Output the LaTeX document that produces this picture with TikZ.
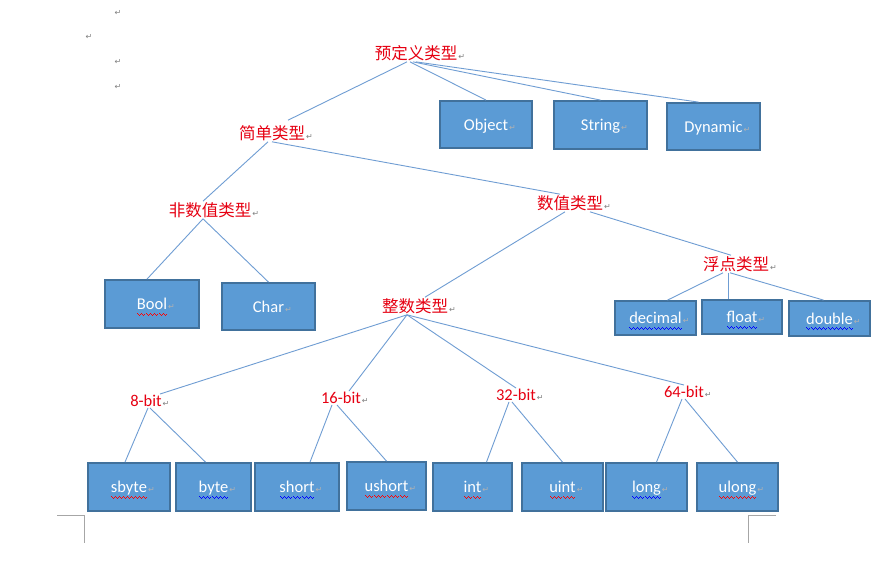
\documentclass[tikz,border=0pt]{standalone}
\usepackage{fontspec}
\setmainfont{Carlito}
\newfontfamily\cjk{Noto Sans CJK SC}
\newfontfamily\symf{DejaVu Sans}
\usepackage{xcolor}
\definecolor{bxFill}{HTML}{5B9BD5}
\definecolor{bxLine}{HTML}{41719C}
\definecolor{lnkC}{HTML}{6F9DD3}
\definecolor{lblR}{HTML}{E60012}
\newcommand\fs{\fontsize{16.5}{18}\selectfont}
\newcommand\pmk[1][gray]{\rlap{\hspace{1pt}\symf\fontsize{8}{8}\selectfont\textcolor{#1}{↵}}}
\newlength\sqw
\newcommand\sqg[2]{\settowidth\sqw{#2}\rlap{\smash{\color{#1}\xleaders\hbox{\rule[-4pt]{1pt}{1pt}\rule[-5pt]{1pt}{1pt}\rule[-6pt]{1pt}{1pt}\rule[-5pt]{1pt}{1pt}}\hskip\sqw}}#2}

\begin{document}
\begin{tikzpicture}[x=1pt,y=-1pt,
  tbox/.style={draw=bxLine,fill=bxFill,line width=1.8pt,text=white,font=\fs,inner sep=0pt,text height=11.5pt,text depth=0pt},
  bx/.style 2 args={tbox,minimum width=#1,minimum height=#2},
  lbl/.style={text=lblR,font=\cjk\fs,inner sep=1pt},
  bit/.style={text=lblR,font=\fs,inner sep=1pt},
  lnk/.style={draw=lnkC,line width=0.9pt},
  pm/.style={text=gray,font=\symf\fontsize{8}{8}\selectfont,inner sep=0pt}]
\fill[white] (0,0) rectangle (889,578);
\useasboundingbox (0,0) rectangle (889,578);

% paragraph marks
\node[pm] (p1) at (118,13) {↵};
\node[pm] (p2) at (89,37) {↵};
\node[pm] (p3) at (118,62) {↵};
\node[pm] (p4) at (118,87) {↵};

% type labels
\node[lbl] (pre) at (416,53) {预定义类型\pmk};
\node[lbl] (simple) at (272,133) {简单类型\pmk};
\node[lbl] (nonnum) at (210,210) {非数值类型\pmk};
\node[lbl] (num) at (570,203) {数值类型\pmk};
\node[lbl] (flt) at (736,264) {浮点类型\pmk};
\node[lbl] (intg) at (415,306) {整数类型\pmk};
\node[bit] (b8) at (146,401) {8-bit\pmk};
\node[bit] (b16) at (341,398) {16-bit\pmk};
\node[bit] (b32) at (516,395) {32-bit\pmk};
\node[bit] (b64) at (684,392) {64-bit\pmk};

% boxes
\node[bx={92}{47}] (obj) at (486,124.5) {Object\pmk[gray!60]};
\node[bx={93}{48}] (str) at (600.5,125) {String\pmk[gray!60]};
\node[bx={93}{47}] (dyn) at (713.5,126.5) {Dynamic\pmk[gray!60]};
\node[bx={94}{48}] (bool) at (152,304) {\sqg{red}{Bool}\pmk[gray!60]};
\node[bx={93}{47}] (char) at (268.5,306.5) {Char\pmk[gray!60]};
\node[bx={81}{34}] (dec) at (655.5,318) {\sqg{blue}{decimal}\pmk[gray!60]};
\node[bx={80}{34}] (fl) at (742,317) {\sqg{blue}{float}\pmk[gray!60]};
\node[bx={81}{35}] (dbl) at (829.5,318.5) {\sqg{blue}{double}\pmk[gray!60]};
\node[bx={82}{48}] (sbyte) at (129,487) {\sqg{red}{sbyte}\pmk[gray!60]};
\node[bx={75}{48}] (byte) at (213.5,487) {\sqg{blue}{byte}\pmk[gray!60]};
\node[bx={84}{48}] (short) at (297,487) {\sqg{blue}{short}\pmk[gray!60]};
\node[bx={79}{48}] (ushort) at (386.5,486) {\sqg{red}{ushort}\pmk[gray!60]};
\node[bx={79}{48}] (int) at (472.5,487) {\sqg{red}{int}\pmk[gray!60]};
\node[bx={81}{48}] (uint) at (562.5,487) {\sqg{red}{uint}\pmk[gray!60]};
\node[bx={81}{48}] (long) at (646.5,487) {\sqg{blue}{long}\pmk[gray!60]};
\node[bx={81}{48}] (ulong) at (737.5,487) {\sqg{red}{ulong}\pmk[gray!60]};

% tree lines
\draw[lnk] ([xshift=-9]pre.south) -- ([xshift=16,yshift=4]simple.north);
\draw[lnk] ([xshift=-6]pre.south) -- (obj.north);
\draw[lnk] ([xshift=-3]pre.south) -- (str.north);
\draw[lnk] (pre.south) -- ([xshift=-15]dyn.north);
\draw[lnk] ([xshift=-4]simple.south) -- ([xshift=-7]nonnum.north);
\draw[lnk] (simple.south) -- ([xshift=-10]num.north);
\draw[lnk] ([xshift=-7]nonnum.south) -- ([xshift=-5]bool.north);
\draw[lnk] ([xshift=-7]nonnum.south) -- (char.north);
\draw[lnk] ([xshift=-5]num.south) -- ([xshift=10]intg.north);
\draw[lnk] ([xshift=20]num.south) -- ([xshift=-5]flt.north);
\draw[lnk] ([xshift=-13]flt.south) -- ([xshift=12]dec.north);
\draw[lnk] ([xshift=-8]flt.south) -- ([xshift=-14]fl.north);
\draw[lnk] ([xshift=-6]flt.south) -- ([xshift=-6]dbl.north);
\foreach \t/\s in {b8/14,b16/8,b32/0,b64/0}
  \draw[lnk] ([xshift=-8]intg.south) -- ([xshift=\s]\t.north);
\draw[lnk] ([xshift=2]b8.south) -- ([xshift=-4]sbyte.north);
\draw[lnk] ([xshift=4]b8.south) -- ([xshift=-8]byte.north);
\draw[lnk] ([xshift=-9]b16.south) -- ([xshift=13]short.north);
\draw[lnk] ([xshift=-4]b16.south) -- (ushort.north);
\draw[lnk] ([xshift=-7]b32.south) -- ([xshift=14]int.north);
\draw[lnk] ([xshift=-4]b32.south) -- (uint.north);
\draw[lnk] ([xshift=-2]b64.south) -- ([xshift=10]long.north);
\draw[lnk] ([xshift=1]b64.south) -- (ulong.north);

% page corner marks
\draw[gray!70,line width=0.8pt] (57,515) -- (84,515) -- (84,543);
\draw[gray!70,line width=0.8pt] (776,515) -- (748,515) -- (748,543);
\end{tikzpicture}
\end{document}
